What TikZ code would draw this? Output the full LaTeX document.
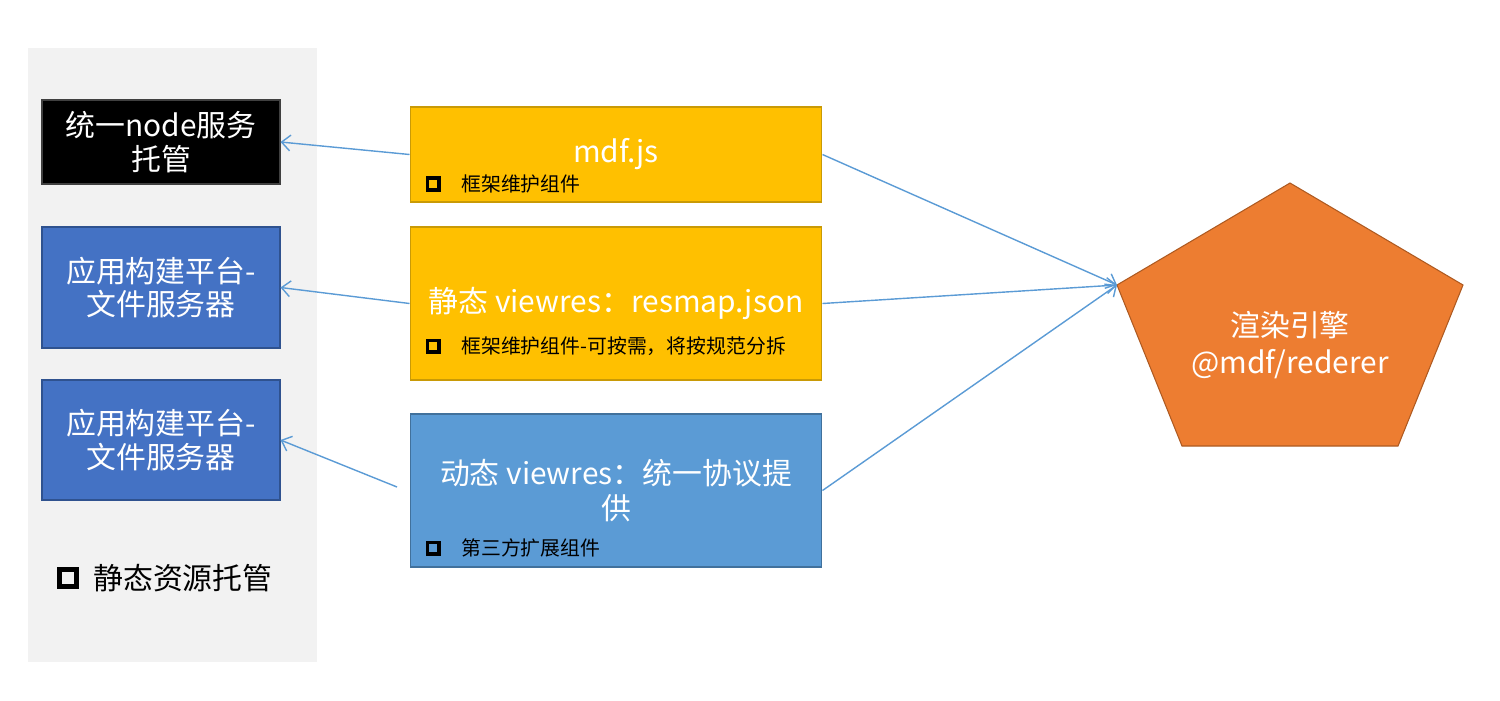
\documentclass[tikz,border=0pt]{standalone}
\usepackage{fontspec}
\setmainfont{Noto Sans CJK SC}
\usetikzlibrary{arrows.meta}

\definecolor{panelgray}{HTML}{F2F2F2}
\definecolor{hostblue}{HTML}{4472C4}
\definecolor{hostborder}{HTML}{2F528F}
\definecolor{resyellow}{HTML}{FFC000}
\definecolor{resborder}{HTML}{C99A06}
\definecolor{dynblue}{HTML}{5B9BD5}
\definecolor{dynborder}{HTML}{41719C}
\definecolor{engorange}{HTML}{ED7D31}
\definecolor{engborder}{HTML}{AE5A21}
\definecolor{linkblue}{HTML}{5B9BD5}

\begin{document}
\begin{tikzpicture}[x=0.02cm,y=-0.02cm,
    hostbox/.style={draw=hostborder, fill=hostblue, line width=0.6pt, text=white,
        align=center, inner sep=0pt, minimum width=4.76cm,
        font=\fontsize{17pt}{19pt}\selectfont},
    resbox/.style={draw=resborder, fill=resyellow, line width=0.6pt, text=white,
        align=center, inner sep=0pt, minimum width=8.24cm,
        font=\fontsize{17pt}{19.5pt}\selectfont},
    bulletbox/.style={draw=black, line width=2pt, minimum size=0.23cm, inner sep=0pt},
    smalltext/.style={anchor=west, inner sep=0pt, font=\fontsize{11.3pt}{13pt}\selectfont},
    link/.style={draw=linkblue, line width=0.8pt, -{Straight Barb[length=5pt,width=9pt]}}]
    \useasboundingbox (0,0) rectangle (1500,700);

    % left panel
    \fill[panelgray] (28,48) rectangle (317,662);
    \node[hostbox, fill=black, draw=darkgray, minimum height=1.68cm] (nodehost) at (161,142) {统一node服务\\托管};
    \node[hostbox, minimum height=2.42cm] (filesrv1) at (161,287.5) {应用构建平台-\\文件服务器};
    \node[hostbox, minimum height=2.4cm] (filesrv2) at (161,440) {应用构建平台-\\文件服务器};
    \node[bulletbox, line width=2.6pt, minimum size=0.34cm] (legbullet) at (68,578) {};
    \node[smalltext, font=\fontsize{17pt}{19pt}\selectfont] (legtext) at (93,578) {静态资源托管};

    % resources
    \node[resbox, minimum height=1.9cm] (mdfjs) at (616,154.5) {mdf.js};
    \node[bulletbox] (mdfbullet) at (433,184) {};
    \node[smalltext] (mdftext) at (461,184) {框架维护组件};

    \node[resbox, minimum height=3.06cm] (staticres) at (616,303.5) {静态 viewres：resmap.json};
    \node[bulletbox] (staticbullet) at (433,346) {};
    \node[smalltext] (statictext) at (461,346) {框架维护组件-可按需，将按规范分拆};

    \node[resbox, fill=dynblue, draw=dynborder, minimum height=3.06cm] (dynres) at (616,490.5) {动态 viewres：统一协议提\\供};
    \node[bulletbox] (dynbullet) at (433,548) {};
    \node[smalltext] (dyntext) at (461,548) {第三方扩展组件};

    % render engine
    \filldraw[fill=engorange, draw=engborder, line width=0.6pt]
        (1290,183) -- (1463,285) -- (1398,446) -- (1182,446) -- (1117,285) coordinate (engleft) -- cycle;
    \node[text=white, align=center, font=\fontsize{17pt}{21pt}\selectfont] (engine) at (1290,345) {渲染引擎\\@mdf/rederer};

    % links
    \coordinate (dynstart) at (397,487);
    \draw[link] (mdfjs.west) -- (nodehost.east);
    \draw[link] (staticres.west) -- (filesrv1.east);
    \draw[link] (dynstart) -- (filesrv2.east);
    \draw[link] (mdfjs.east) -- (engleft);
    \draw[link] (staticres.east) -- (engleft);
    \draw[link] (dynres.east) -- (engleft);
\end{tikzpicture}
\end{document}
